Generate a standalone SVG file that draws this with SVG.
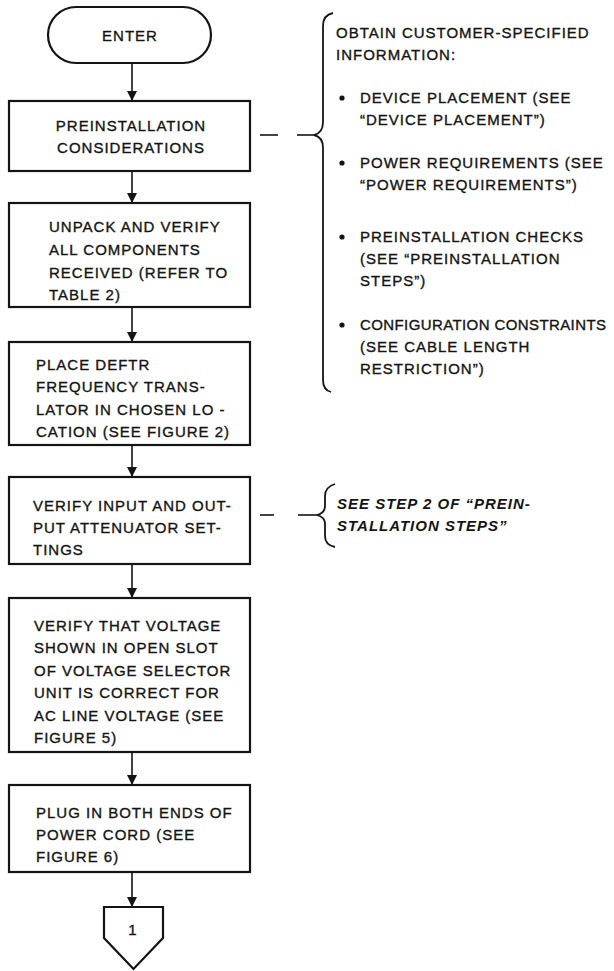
<svg xmlns="http://www.w3.org/2000/svg" width="614" height="971" viewBox="0 0 614 971">
<style>
  .bg { fill: #ffffff; }
  .shape { fill: #ffffff; stroke: #141414; stroke-width: 2.2; }
  .t { font-family: "Liberation Sans", Arial, sans-serif; font-size: 15px; fill: #141414; stroke: #141414; stroke-width: 0.35px; letter-spacing: 1px; }
  .c { text-anchor: middle; }
  .it { font-style: italic; font-weight: bold; stroke-width: 0; }
  .conn { stroke: #141414; stroke-width: 1.6; fill: none; }
  .dash { stroke: #141414; stroke-width: 1.6; fill: none; }
  .brace { stroke: #141414; stroke-width: 1.8; fill: none; }
</style>
<defs>
  <marker id="arr" markerWidth="10" markerHeight="12" refX="9" refY="5" orient="auto" markerUnits="userSpaceOnUse">
    <path d="M0,0 L10,5 L0,10 z" fill="#141414"/>
  </marker>
</defs>
<rect class="bg" x="0" y="0" width="614" height="971"/>

<g id="connectors">
  <line class="conn" x1="132" y1="63" x2="132" y2="100" marker-end="url(#arr)"/>
  <line class="conn" x1="132" y1="171" x2="132" y2="202" marker-end="url(#arr)"/>
  <line class="conn" x1="132" y1="307" x2="132" y2="341" marker-end="url(#arr)"/>
  <line class="conn" x1="132" y1="445" x2="132" y2="476" marker-end="url(#arr)"/>
  <line class="conn" x1="132" y1="564" x2="132" y2="597" marker-end="url(#arr)"/>
  <line class="conn" x1="132" y1="752" x2="132" y2="784" marker-end="url(#arr)"/>
  <line class="conn" x1="132" y1="872" x2="132" y2="906" marker-end="url(#arr)"/>
  <line class="dash" x1="260" y1="135" x2="278" y2="135"/>
  <line class="dash" x1="297" y1="135" x2="315" y2="135"/>
  <line class="dash" x1="260" y1="515" x2="274" y2="515"/>
  <line class="dash" x1="298" y1="515" x2="317" y2="515"/>
</g>

<g id="enter">
  <rect class="shape" x="48" y="7" width="163" height="56" rx="28" ry="28"/>
  <text class="t c" x="130" y="41">ENTER</text>
</g>

<g id="preinstallation">
  <rect class="shape" x="9" y="101" width="241" height="70"/>
  <text class="t c" x="131" y="131">PREINSTALLATION</text>
  <text class="t c" x="131" y="153">CONSIDERATIONS</text>
</g>

<g id="unpack">
  <rect class="shape" x="9" y="203" width="241" height="104"/>
  <text class="t" x="49" y="232">UNPACK AND VERIFY</text>
  <text class="t" x="49" y="255">ALL COMPONENTS</text>
  <text class="t" x="49" y="278">RECEIVED (REFER TO</text>
  <text class="t" x="49" y="300">TABLE 2)</text>
</g>

<g id="place">
  <rect class="shape" x="9" y="342" width="241" height="103"/>
  <text class="t" x="36" y="370">PLACE DEFTR</text>
  <text class="t" x="36" y="392">FREQUENCY TRANS-</text>
  <text class="t" x="36" y="415">LATOR IN CHOSEN LO -</text>
  <text class="t" x="36" y="437">CATION (SEE FIGURE 2)</text>
</g>

<g id="verify-atten">
  <rect class="shape" x="9" y="477" width="241" height="87"/>
  <text class="t" x="33" y="511">VERIFY INPUT AND OUT-</text>
  <text class="t" x="33" y="533">PUT ATTENUATOR SET-</text>
  <text class="t" x="33" y="555">TINGS</text>
</g>

<g id="verify-voltage">
  <rect class="shape" x="9" y="598" width="241" height="154"/>
  <text class="t" x="34" y="631">VERIFY THAT VOLTAGE</text>
  <text class="t" x="34" y="653">SHOWN IN OPEN SLOT</text>
  <text class="t" x="34" y="676">OF VOLTAGE SELECTOR</text>
  <text class="t" x="34" y="698">UNIT IS CORRECT FOR</text>
  <text class="t" x="34" y="721">AC LINE VOLTAGE (SEE</text>
  <text class="t" x="34" y="743">FIGURE 5)</text>
</g>

<g id="plug">
  <rect class="shape" x="9" y="785" width="241" height="87"/>
  <text class="t" x="36" y="818">PLUG IN BOTH ENDS OF</text>
  <text class="t" x="36" y="840">POWER CORD (SEE</text>
  <text class="t" x="36" y="862">FIGURE 6)</text>
</g>

<g id="offpage">
  <polygon class="shape" points="104,907 163,907 163,938 133.5,969 104,938"/>
  <text class="t c" x="133" y="935">1</text>
</g>

<g id="note-customer">
  <path class="brace" d="M333,13 Q323,15 323,26 L323,122 Q323,133 314,135 Q323,137 323,148 L323,380 Q323,390 331,392"/>
  <text class="t" x="336" y="38">OBTAIN CUSTOMER-SPECIFIED</text>
  <text class="t" x="336" y="60">INFORMATION:</text>
  <circle cx="342" cy="98" r="2.6" fill="#141414"/>
  <text class="t" x="360" y="103">DEVICE PLACEMENT (SEE</text>
  <text class="t" x="360" y="125">“DEVICE PLACEMENT”)</text>
  <circle cx="342" cy="163" r="2.6" fill="#141414"/>
  <text class="t" x="360" y="168">POWER REQUIREMENTS (SEE</text>
  <text class="t" x="360" y="190">“POWER REQUIREMENTS”)</text>
  <circle cx="342" cy="237" r="2.6" fill="#141414"/>
  <text class="t" x="360" y="242">PREINSTALLATION CHECKS</text>
  <text class="t" x="360" y="264">(SEE “PREINSTALLATION</text>
  <text class="t" x="360" y="286">STEPS”)</text>
  <circle cx="342" cy="325" r="2.6" fill="#141414"/>
  <text class="t" x="360" y="330" style="letter-spacing:0.4px">CONFIGURATION CONSTRAINTS</text>
  <text class="t" x="360" y="352">(SEE CABLE LENGTH</text>
  <text class="t" x="360" y="374">RESTRICTION”)</text>
</g>

<g id="note-step2">
  <path class="brace" d="M335,484 Q325,487 325,496 L325,506 Q325,513 317,515 Q325,517 325,524 L325,536 Q325,545 335,547"/>
  <text class="t it" x="337" y="509">SEE STEP 2 OF “PREIN-</text>
  <text class="t it" x="337" y="531">STALLATION STEPS”</text>
</g>
</svg>
